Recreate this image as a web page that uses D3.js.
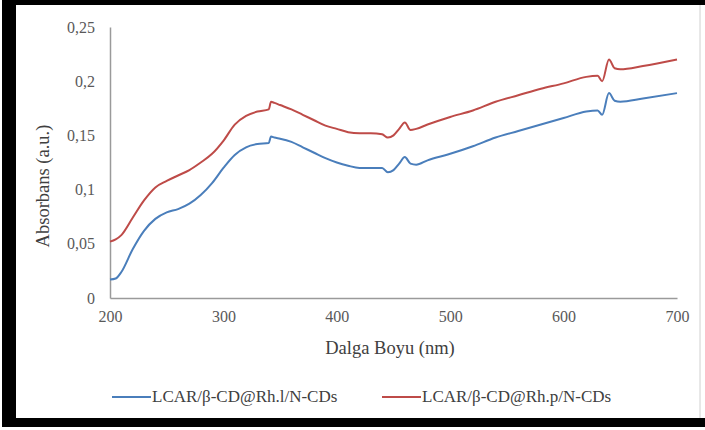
<!DOCTYPE html>
<html>
<head>
<meta charset="utf-8">
<script src="https://cdn.jsdelivr.net/npm/d3@7"></script>
<style>
  body { margin: 0; background: #fff; }
  svg text { font-family: "Liberation Serif", "DejaVu Serif", serif; }
</style>
</head>
<body>
<div id="chart"></div>
<script>
var svgWidth = 705;
var svgHeight = 430;

// wavelength (nm)
var wavelengths = [200, 205, 210, 220, 230, 240, 250, 260, 270, 280, 290, 300, 310, 320, 330, 340, 342, 345, 350, 360, 370, 380, 390, 400, 410, 420, 430, 440, 445, 450, 455, 460, 465, 470, 480, 500, 520, 540, 560, 580, 600, 620, 630, 634, 640, 645, 650, 670, 700];

var seriesNames = ["LCAR/\u03b2-CD@Rh.l/N-CDs", "LCAR/\u03b2-CD@Rh.p/N-CDs"];

var blueValues = [0.017, 0.018, 0.024, 0.045, 0.062, 0.073, 0.079, 0.082, 0.087, 0.095, 0.106, 0.120, 0.132, 0.139, 0.142, 0.143, 0.149, 0.148, 0.147, 0.144, 0.139, 0.134, 0.129, 0.125, 0.122, 0.120, 0.120, 0.120, 0.116, 0.118, 0.124, 0.130, 0.124, 0.123, 0.127, 0.133, 0.140, 0.148, 0.154, 0.160, 0.166, 0.172, 0.173, 0.169, 0.189, 0.182, 0.181, 0.184, 0.189];

var redValues = [0.052, 0.054, 0.058, 0.074, 0.090, 0.102, 0.108, 0.113, 0.118, 0.125, 0.133, 0.145, 0.160, 0.168, 0.172, 0.174, 0.181, 0.180, 0.178, 0.174, 0.169, 0.164, 0.159, 0.156, 0.153, 0.152, 0.152, 0.151, 0.148, 0.150, 0.156, 0.162, 0.155, 0.156, 0.160, 0.167, 0.173, 0.181, 0.187, 0.193, 0.198, 0.204, 0.205, 0.200, 0.220, 0.212, 0.211, 0.214, 0.220];

var xTicks = [200, 300, 400, 500, 600, 700];
var yTicks = [0, 0.05, 0.1, 0.15, 0.2, 0.25];
var yTickLabels = ["0", "0,05", "0,1", "0,15", "0,2", "0,25"];

var colors = ["#4a7ebb", "#be4b48"];

var margin = { top: 27, right: 28, bottom: 132, left: 110 };
var width = 677 - margin.left;
var height = 298 - margin.top;

var svg = d3.select("#chart")
  .append("svg")
  .attr("width", svgWidth)
  .attr("height", svgHeight);

// outer frame (thick black on left, top and bottom)
svg.append("rect").attr("x", 0).attr("y", 0).attr("width", svgWidth).attr("height", svgHeight).attr("fill", "#fff");
svg.append("rect").attr("x", 2).attr("y", 0).attr("width", 14).attr("height", 427).attr("fill", "#000");
svg.append("rect").attr("x", 2).attr("y", 0).attr("width", 703).attr("height", 5).attr("fill", "#000");
svg.append("rect").attr("x", 2).attr("y", 418).attr("width", 703).attr("height", 9).attr("fill", "#000");
svg.append("line").attr("x1", 700).attr("x2", 700).attr("y1", 5).attr("y2", 418)
  .attr("stroke", "#d0d0d0").attr("stroke-width", 1);

var chartGroup = svg.append("g")
  .attr("transform", `translate(${margin.left}, ${margin.top})`);

var xScale = d3.scaleLinear().domain([200, 700]).range([0, width]);
var yScale = d3.scaleLinear().domain([0, 0.25]).range([height, 0]);

var bottomAxis = d3.axisBottom(xScale).tickValues(xTicks).tickSize(0).tickPadding(13);
var leftAxis = d3.axisLeft(yScale).tickValues(yTicks).tickSize(0).tickPadding(15)
  .tickFormat((d, i) => yTickLabels[i]);

var gx = chartGroup.append("g")
  .attr("transform", "translate(0, " + height + ")")
  .call(bottomAxis);
var gy = chartGroup.append("g").call(leftAxis);

[gx, gy].forEach(function (g) {
  g.attr("font-family", null).attr("font-size", null);
  g.select(".domain").attr("stroke", "#9a9a9a").attr("stroke-width", 1.5);
  g.selectAll("text")
    .attr("fill", "#595959")
    .style("font-size", "16px");
});

chartGroup.append("text")
  .text("Dalga Boyu (nm)")
  .attr("x", 390 - margin.left)
  .attr("y", 354 - margin.top)
  .attr("text-anchor", "middle")
  .attr("fill", "#404040")
  .style("font-size", "18.5px");

chartGroup.append("text")
  .text("Absorbans (a.u.)")
  .attr("text-anchor", "middle")
  .attr("fill", "#404040")
  .style("font-size", "18.5px")
  .attr("transform", `translate(${49 - margin.left},${186 - margin.top}) rotate(-90)`);

var line = d3.line()
  .x((d, i) => xScale(wavelengths[i]))
  .y((d) => yScale(d))
  .curve(d3.curveMonotoneX);

[blueValues, redValues].forEach(function (vals, k) {
  chartGroup.append("path")
    .datum(vals)
    .attr("d", line)
    .attr("fill", "none")
    .attr("stroke", colors[k])
    .attr("stroke-width", 2);
});

// legend
var legendX = [112, 382];
var legend = svg.append("g");
seriesNames.forEach(function (name, k) {
  legend.append("line")
    .attr("x1", legendX[k]).attr("x2", legendX[k] + 39)
    .attr("y1", 397).attr("y2", 397)
    .attr("stroke", colors[k]).attr("stroke-width", 2);
  legend.append("text")
    .text(name)
    .attr("x", legendX[k] + 40)
    .attr("y", 402)
    .attr("fill", "#404040")
    .style("font-size", "17px");
});
</script>
</body>
</html>
